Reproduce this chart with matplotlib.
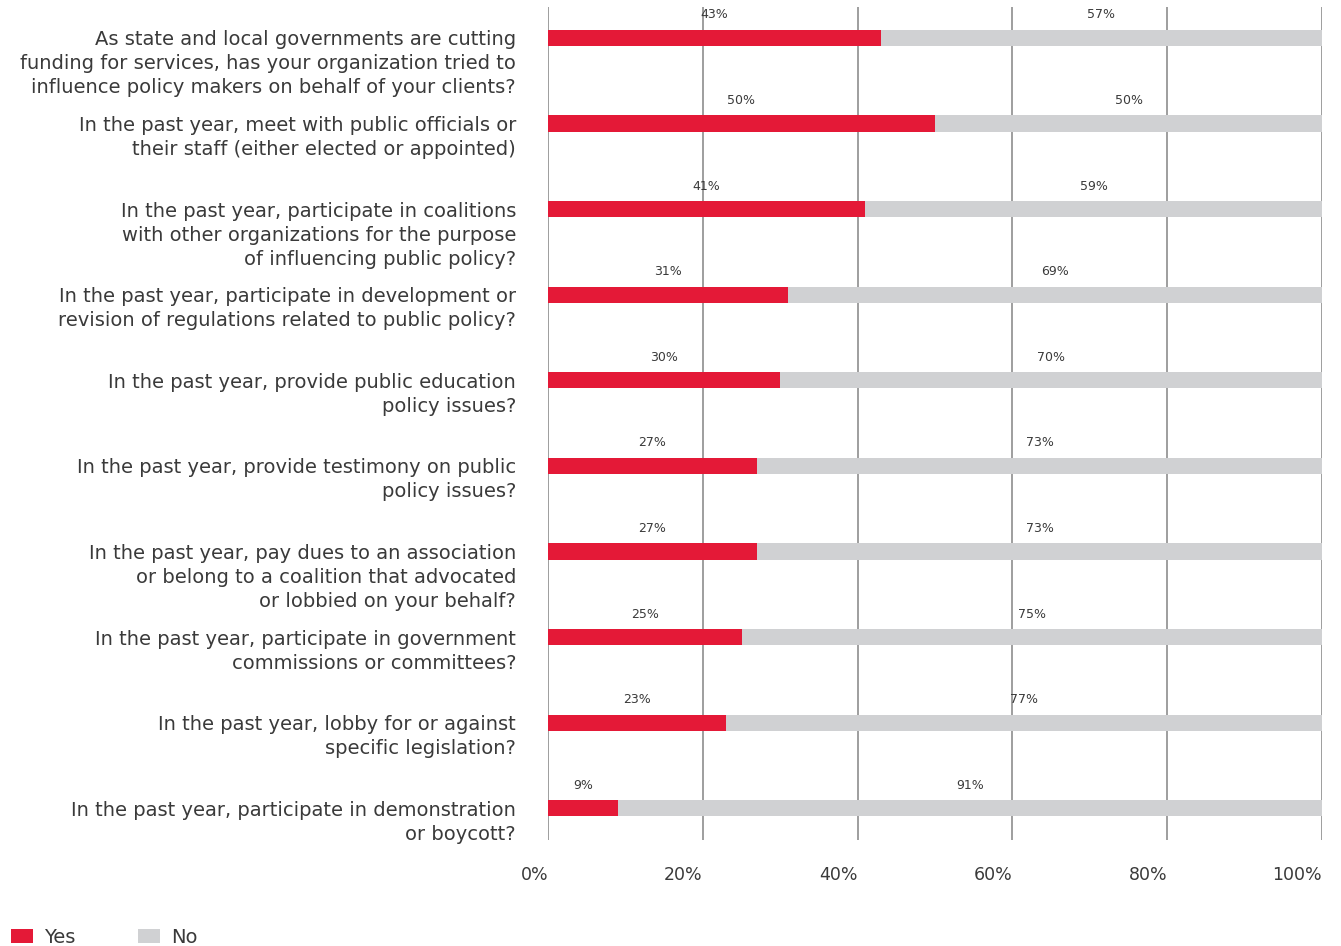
import matplotlib
matplotlib.use("Agg")
from matplotlib import pyplot as plt
from matplotlib.patches import Patch

plt.rcParams['font.family'] = ['DejaVu Sans']

# 问题（每行单独排列，首行与条形对齐）
questions = [
    "As state and local governments are cutting\nfunding for services, has your organization tried to\ninfluence policy makers on behalf of your clients?",
    "In the past year, meet with public officials or\ntheir staff (either elected or appointed)",
    "In the past year, participate in coalitions\nwith other organizations for the purpose\nof influencing public policy?",
    "In the past year, participate in development or\nrevision of regulations related to public policy?",
    "In the past year, provide public education\npolicy issues?",
    "In the past year, provide testimony on public\npolicy issues?",
    "In the past year, pay dues to an association\nor belong to a coalition that advocated\nor lobbied on your behalf?",
    "In the past year, participate in government\ncommissions or committees?",
    "In the past year, lobby for or against\nspecific legislation?",
    "In the past year, participate in demonstration\nor boycott?",
]
yes_pct = [43, 50, 41, 31, 30, 27, 27, 25, 23, 9]
no_pct = [57, 50, 59, 69, 70, 73, 73, 75, 77, 91]
xticks = [0, 20, 40, 60, 80, 100]

red = "#E41937"
grey = "#D0D1D3"
text_c = "#3A3A3A"

fig = plt.figure(figsize=(13.41, 9.46), dpi=100)
ax = fig.add_axes([548 / 1341, 1 - 840 / 946, (1322 - 548) / 1341, (840 - 7) / 946])

y = list(range(len(questions)))
bar_h = 0.19
ax.barh(y, yes_pct, height=bar_h, color=red, zorder=2)
ax.barh(y, no_pct, left=yes_pct, height=bar_h, color=grey, zorder=2)

# 百分比标注放在各段中间、条形上方
for i in y:
    ax.annotate("%d%%" % yes_pct[i], xy=(yes_pct[i] / 2, i), xytext=(0, 23),
                textcoords="offset pixels", ha="center", va="center",
                fontsize=9, color=text_c)
    ax.annotate("%d%%" % no_pct[i], xy=(yes_pct[i] + no_pct[i] / 2, i), xytext=(0, 23),
                textcoords="offset pixels", ha="center", va="center",
                fontsize=9, color=text_c)

# 左侧问题文字
for i, q in enumerate(questions):
    for k, line in enumerate(q.split("\n")):
        ax.annotate(line, xy=(0, i), xytext=(-32, -24 * k), textcoords="offset pixels",
                    ha="right", va="center_baseline", fontsize=14, color=text_c,
                    annotation_clip=False)

ax.set_xlim(0, 100)
ax.set_ylim(len(questions) - 1 + 0.37, -0.36)
ax.set_xticks(xticks)
ax.set_xticklabels(["%d%%" % t for t in xticks], ha="right")
ax.tick_params(axis="x", length=0, pad=19, labelsize=12.5, labelcolor=text_c)
ax.set_yticks([])
for s in ax.spines.values():
    s.set_visible(False)
ax.grid(axis="x", color="#9E9E9E", linewidth=1.4, zorder=1)
ax.set_axisbelow(True)

handles = [Patch(facecolor=red, label="Yes"), Patch(facecolor=grey, label="No")]
fig.legend(handles=handles, loc="lower left", bbox_to_anchor=(-0.0045, -0.0195), ncol=2,
           frameon=False, fontsize=14, handlelength=1.1, handleheight=0.7,
           handletextpad=0.6, columnspacing=3.2, labelcolor=text_c)

fig.savefig("out.png", dpi=100)
